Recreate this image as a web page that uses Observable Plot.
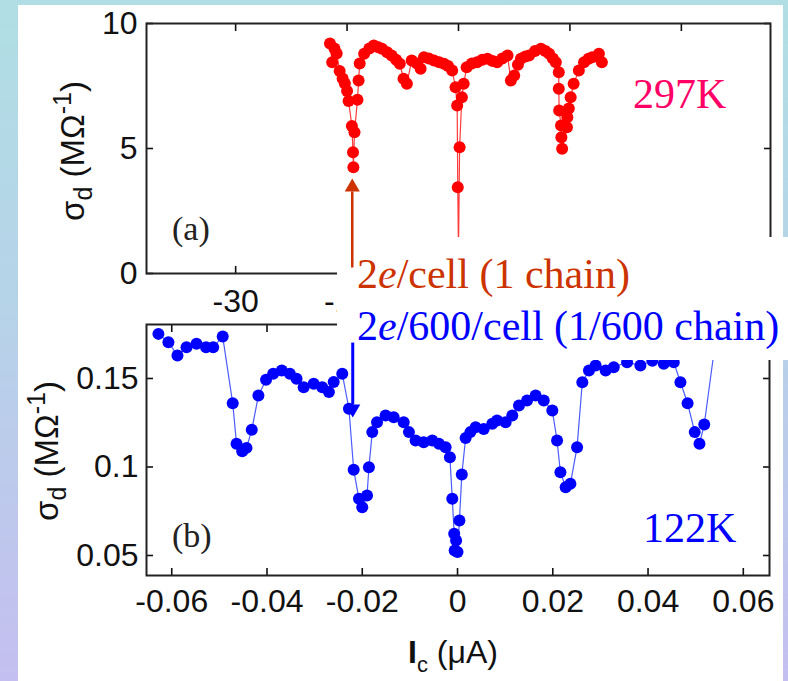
<!DOCTYPE html>
<html>
<head>
<meta charset="utf-8">
<script src="https://cdn.jsdelivr.net/npm/d3@7"></script>
<script src="https://cdn.jsdelivr.net/npm/@observablehq/plot@0.6"></script>
<style>
  html, body { margin: 0; padding: 0; }
  body { width: 788px; height: 681px; overflow: hidden; position: relative;
    background: linear-gradient(to bottom, #b0dee4 0%, #b6d3e8 45%, #c4bff0 100%); }
  .layer { position: absolute; }
  #panel { left: 18px; top: 5px; width: 765px; height: 676px; background: #fff; }
  #box { left: 337px; top: 237px; width: 451px; height: 123px; background: #fff; z-index: 3; }
  #labels { left: 0; top: 0; z-index: 5; pointer-events: none; }
</style>
</head>
<body>
<div id="panel" class="layer"></div>
<div id="topChart" class="layer" style="left:18px;top:5px;z-index:1"></div>
<div id="botChart" class="layer" style="left:18px;top:313px;z-index:2"></div>
<div id="box" class="layer"></div>
<div id="topArrow" class="layer" style="left:18px;top:5px;z-index:4"></div>
<div id="botArrow" class="layer" style="left:18px;top:313px;z-index:4"></div>
<svg id="labels" class="layer" width="788" height="681">
  <g font-family="'Liberation Sans', Arial, sans-serif" font-size="33" fill="#111">
    <text transform="translate(84,151) rotate(-90)" text-anchor="middle">σ<tspan font-size="25" dy="8">d</tspan><tspan dy="-8"> (MΩ</tspan><tspan font-size="25" dy="-13">-1</tspan><tspan dy="13">)</tspan></text>
    <text transform="translate(58,451) rotate(-90)" text-anchor="middle">σ<tspan font-size="25" dy="8">d</tspan><tspan dy="-8"> (MΩ</tspan><tspan font-size="25" dy="-13">-1</tspan><tspan dy="13">)</tspan></text>
  </g>
  <text x="408" y="663" font-family="'Liberation Sans', Arial, sans-serif" font-size="32" fill="#111"><tspan font-weight="bold">I</tspan><tspan font-size="22" dy="9">c</tspan><tspan dy="-9"> (μA)</tspan></text>
  <g font-family="'Liberation Serif', 'Times New Roman', serif">
    <text x="172" y="240" font-size="34" fill="#222">(a)</text>
    <text x="172" y="547" font-size="34" fill="#222">(b)</text>
    <text x="633" y="108" font-size="42" fill="#ff0066">297K</text>
    <text x="643" y="542" font-size="42" fill="#0000ff">122K</text>
    <text x="357" y="288" font-size="42" fill="#cc3300">2<tspan font-style="italic">e</tspan>/cell (1 chain)</text>
    <text x="357" y="340" font-size="42" fill="#0000ff">2<tspan font-style="italic">e</tspan>/600/cell (1/600 chain)</text>
  </g>
</svg>
<script>
// ---- Panel (a): 297 K ----
const redX = [-17.3, -17.0, -16.7, -16.4, -16.0, -15.6, -15.3, -15.0, -14.8, -14.35, -14.2, -14.15, -14.0, -13.6, -13.45, -13.3, -12.7, -12.0, -11.4, -10.8, -10.3, -9.6, -9.0, -8.4, -7.9, -7.4, -6.95, -6.3, -5.6, -5.1, -4.65, -4.0, -3.3, -2.6, -1.96, -1.4, -0.85, -0.4, -0.18, -0.1, 0.0, 0.15, 0.45, 0.7, 1.1, 1.8, 2.5, 3.2, 3.9, 4.6, 5.2, 5.9, 6.6, 7.05, 7.5, 8.0, 8.4, 9.0, 9.5, 10.3, 11.1, 11.7, 12.2, 12.7, 13.1, 13.5, 13.5, 13.55, 13.8, 13.85, 13.95, 14.6, 14.65, 14.85, 15.1, 15.5, 16.2, 16.9, 17.5, 18.0, 18.9, 19.3];
const redY = [9.2, 8.45, 9.0, 8.8, 8.1, 7.8, 7.6, 7.3, 6.9, 5.9, 4.85, 4.25, 5.65, 6.95, 7.72, 8.4, 8.79, 9.0, 9.12, 9.05, 8.99, 8.85, 8.72, 8.55, 8.39, 7.79, 7.59, 8.52, 8.4, 8.19, 8.65, 8.6, 8.52, 8.45, 8.39, 8.3, 8.12, 7.45, 6.72, 3.45, 0.8, 5.05, 7.05, 7.59, 8.25, 8.4, 8.45, 8.55, 8.59, 8.5, 8.45, 8.6, 8.72, 7.72, 7.92, 8.35, 8.59, 8.68, 8.72, 8.9, 8.99, 8.9, 8.79, 8.6, 8.45, 8.05, 7.39, 6.52, 5.92, 5.45, 4.99, 5.85, 6.25, 6.6, 7.05, 7.59, 8.12, 8.45, 8.59, 8.65, 8.79, 8.45];

// ---- Panel (b): 122 K ----
const blueX = [-0.0628, -0.0607, -0.0588, -0.0569, -0.0548, -0.0528, -0.0513, -0.0493, -0.0472, -0.0464, -0.0452, -0.0443, -0.0432, -0.0418, -0.0402, -0.0387, -0.0369, -0.0352, -0.0338, -0.0323, -0.0302, -0.0284, -0.0270, -0.0260, -0.0242, -0.0228, -0.0218, -0.0207, -0.0200, -0.0190, -0.0186, -0.0179, -0.0169, -0.0151, -0.0134, -0.0113, -0.0102, -0.0088, -0.0071, -0.0053, -0.0039, -0.0025, -0.0016, -0.0011, -0.0007, -0.0003, -0.0006, 0.0, 0.0004, 0.0009, 0.0017, 0.0027, 0.0038, 0.0055, 0.0073, 0.0083, 0.0101, 0.0115, 0.0129, 0.0146, 0.0164, 0.0181, 0.0199, 0.0209, 0.0216, 0.0227, 0.0237, 0.0251, 0.0262, 0.0276, 0.0290, 0.0311, 0.0328, 0.0356, 0.0384, 0.0409, 0.0433, 0.0454, 0.0468, 0.0483, 0.0498, 0.0508, 0.0518, 0.0544];
const blueY = [0.1752, 0.1705, 0.163, 0.1677, 0.1696, 0.1677, 0.1677, 0.1737, 0.136, 0.1131, 0.1089, 0.1108, 0.121, 0.1404, 0.1493, 0.1527, 0.1545, 0.1527, 0.1498, 0.1451, 0.147, 0.1451, 0.1423, 0.148, 0.1527, 0.1329, 0.0984, 0.082, 0.0773, 0.0839, 0.0999, 0.1197, 0.1253, 0.1291, 0.1281, 0.1253, 0.1197, 0.115, 0.114, 0.115, 0.1131, 0.1112, 0.1055, 0.082, 0.0623, 0.0585, 0.0528, 0.052, 0.0698, 0.0957, 0.1164, 0.1197, 0.1225, 0.1215, 0.1244, 0.1263, 0.1253, 0.1291, 0.1347, 0.1376, 0.1404, 0.1376, 0.1319, 0.115, 0.097, 0.0886, 0.0905, 0.1112, 0.1479, 0.1545, 0.1573, 0.1545, 0.1564, 0.1592, 0.1573, 0.16, 0.1583, 0.1592, 0.1479, 0.136, 0.1197, 0.1131, 0.124, 0.176];

// ---- Scales / ticks ----
const topXDomain = [-42, 42];
const topYDomain = [0, 10];
const topXTicks = [-30, -15, 0, 15, 30];
const topYTicks = [0, 5, 10];
const botXDomain = [-0.0653, 0.0655];
const botYDomain = [0.0387, 0.1805];
const botXTicks = [-0.06, -0.04, -0.02, 0, 0.02, 0.04, 0.06];
const botYTicks = [0.05, 0.1, 0.15];

// ---- Annotation arrows (data units) ----
const redArrowX = [-14.3];
const redArrowTail = [0.24];
const redArrowBase = [3.28];
const redArrowHead = [3.45];
const blueArrowX = [-0.022];
const blueArrowTail = [0.1703];
const blueArrowBase = [0.1353];
const blueArrowHead = [0.1329];

const red = redX.map((x, i) => ({x, y: redY[i]}));
const blue = blueX.map((x, i) => ({x, y: blueY[i]}));
const redArrow = redArrowX.map((x, i) => ({x, from: redArrowTail[i], to: redArrowBase[i], head: redArrowHead[i]}));
const blueArrow = blueArrowX.map((x, i) => ({x, from: blueArrowTail[i], to: blueArrowBase[i], head: blueArrowHead[i]}));

const font = "'Liberation Sans', Arial, Helvetica, sans-serif";
const fmt = d => String(d);
const blank = () => "";

function frameAxes(xTicks, yTicks, xPad, yPad) {
  const common = {tickSize: -7, label: null, fontSize: 32, strokeWidth: 1.6};
  return [
    Plot.axisX({...common, anchor: "bottom", ticks: xTicks, tickPadding: xPad, tickFormat: fmt}),
    Plot.axisX({...common, anchor: "top", ticks: xTicks, tickPadding: 0, tickFormat: blank}),
    Plot.axisY({...common, anchor: "left", ticks: yTicks, tickPadding: yPad, tickFormat: fmt}),
    Plot.axisY({...common, anchor: "right", ticks: yTicks, tickPadding: 0, tickFormat: blank}),
    Plot.frame({stroke: "#222", strokeWidth: 2})
  ];
}

const topDims = {width: 765, height: 308, marginLeft: 128, marginRight: 13, marginTop: 18, marginBottom: 40};
const botDims = {width: 765, height: 368, marginLeft: 128, marginRight: 14, marginTop: 11, marginBottom: 106};

const topChart = Plot.plot({
  ...topDims,
  style: {fontFamily: font, fontSize: "32px", color: "#111", background: "white"},
  x: {domain: topXDomain, label: null},
  y: {domain: topYDomain, label: null},
  marks: [
    ...frameAxes(topXTicks, topYTicks, 23, 16),
    Plot.line(red, {x: "x", y: "y", stroke: "#ff3b3b", strokeWidth: 1.2}),
    Plot.dot(red, {x: "x", y: "y", r: 6, fill: "#ff0000"})
  ]
});
document.getElementById("topChart").appendChild(topChart);

const botChart = Plot.plot({
  ...botDims,
  style: {fontFamily: font, fontSize: "32px", color: "#111", background: "white"},
  x: {domain: botXDomain, label: null},
  y: {domain: botYDomain, label: null},
  marks: [
    ...frameAxes(botXTicks, botYTicks, 21, 15),
    Plot.line(blue, {x: "x", y: "y", stroke: "#4a5cff", strokeWidth: 1.2}),
    Plot.dot(blue, {x: "x", y: "y", r: 6, fill: "#0000ff"})
  ]
});
document.getElementById("botChart").appendChild(botChart);

const topArrow = Plot.plot({
  ...topDims,
  axis: null,
  style: {background: "transparent"},
  x: {domain: topXDomain},
  y: {domain: topYDomain},
  marks: [
    Plot.link(redArrow, {x1: "x", x2: "x", y1: "from", y2: "to", stroke: "#cc3300", strokeWidth: 2.5}),
    Plot.dot(redArrow, {x: "x", y: "head", symbol: "triangle", r: 5.6, fill: "#cc3300"})
  ]
});
document.getElementById("topArrow").appendChild(topArrow);

const botArrow = Plot.plot({
  ...botDims,
  axis: null,
  style: {background: "transparent"},
  x: {domain: botXDomain},
  y: {domain: botYDomain},
  marks: [
    Plot.link(blueArrow, {x1: "x", x2: "x", y1: "from", y2: "to", stroke: "#0000ff", strokeWidth: 3}),
    Plot.dot(blueArrow, {x: "x", y: "head", symbol: "triangle", rotate: 180, r: 5.6, fill: "#0000ff"})
  ]
});
document.getElementById("botArrow").appendChild(botArrow);
</script>
</body>
</html>
